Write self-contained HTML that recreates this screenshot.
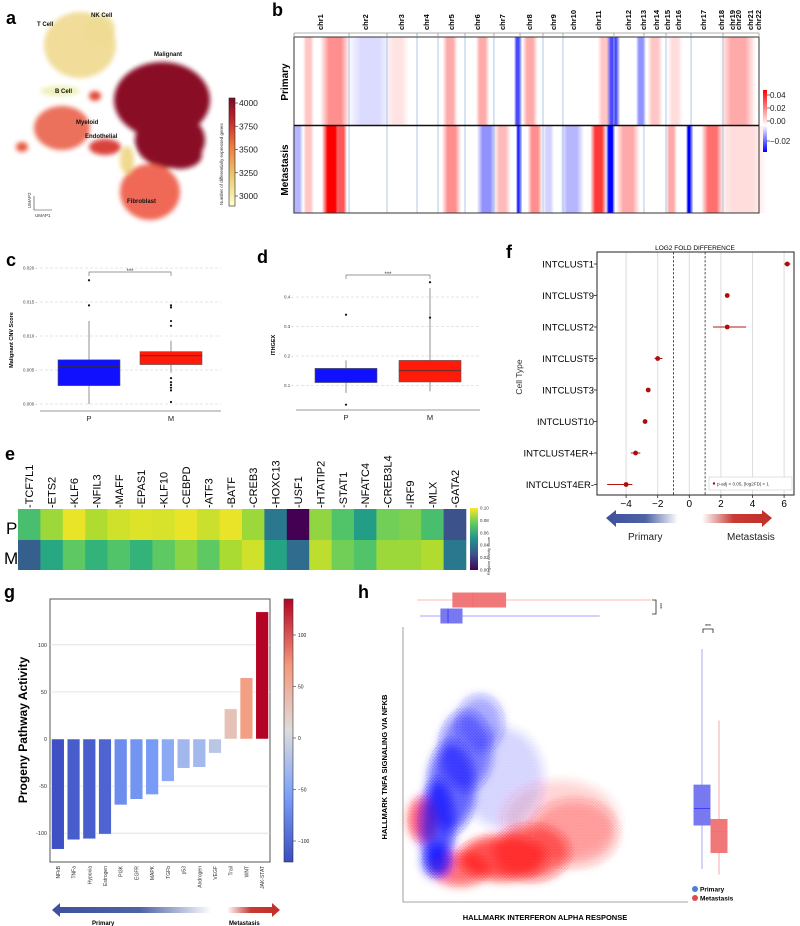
<!DOCTYPE html>
<html><head><meta charset="utf-8"><style>
html,body{margin:0;padding:0;background:#fff;}
svg{display:block;font-family:"Liberation Sans",sans-serif;}
</style></head><body>
<svg id="fig" width="800" height="926" viewBox="0 0 800 926" xmlns="http://www.w3.org/2000/svg">
<defs>
<filter id="blur6" x="-50%" y="-50%" width="200%" height="200%"><feGaussianBlur stdDeviation="5"/></filter>
<filter id="blur3" x="-50%" y="-50%" width="200%" height="200%"><feGaussianBlur stdDeviation="2.5"/></filter>
<pattern id="dotsB" width="3" height="3" patternUnits="userSpaceOnUse"><circle cx="1" cy="1" r="0.8" fill="#1a1aff"/><circle cx="2.5" cy="2.3" r="0.5" fill="#1a1aff"/></pattern>
<pattern id="dotsR" width="3" height="3" patternUnits="userSpaceOnUse"><circle cx="1" cy="1" r="0.8" fill="#ff1a1a"/><circle cx="2.5" cy="2.3" r="0.5" fill="#ff1a1a"/></pattern>
<linearGradient id="ylorrd" x1="0" y1="1" x2="0" y2="0"><stop offset="0" stop-color="#ffffcc"/><stop offset="0.3" stop-color="#e9c46a"/><stop offset="0.55" stop-color="#f07c3e"/><stop offset="0.8" stop-color="#c2262e"/><stop offset="1" stop-color="#7d0a22"/></linearGradient>
<linearGradient id="bwr" x1="0" y1="1" x2="0" y2="0"><stop offset="0" stop-color="#0000ff"/><stop offset="0.43" stop-color="#ffffff"/><stop offset="1" stop-color="#ff0000"/></linearGradient>
<linearGradient id="virid" x1="0" y1="1" x2="0" y2="0"><stop offset="0" stop-color="#440154"/><stop offset="0.25" stop-color="#3b528b"/><stop offset="0.5" stop-color="#21918c"/><stop offset="0.75" stop-color="#5ec962"/><stop offset="1" stop-color="#fde725"/></linearGradient>
<linearGradient id="cw" x1="0" y1="1" x2="0" y2="0"><stop offset="0" stop-color="#3b4cc0"/><stop offset="0.25" stop-color="#7b9ff9"/><stop offset="0.5" stop-color="#dddcdc"/><stop offset="0.75" stop-color="#f4987a"/><stop offset="1" stop-color="#b40426"/></linearGradient>
<linearGradient id="arrBlue" x1="0" y1="0" x2="1" y2="0"><stop offset="0" stop-color="#3f4f9e"/><stop offset="0.55" stop-color="#4f63a5"/><stop offset="1" stop-color="#ffffff"/></linearGradient>
<linearGradient id="arrRed" x1="0" y1="0" x2="1" y2="0"><stop offset="0" stop-color="#ffffff"/><stop offset="0.45" stop-color="#c83a33"/><stop offset="1" stop-color="#c0302b"/></linearGradient>
</defs>
<g id="panelA">
<text x="6" y="24" font-size="18" font-weight="bold">a</text>
<g filter="url(#blur3)">
<ellipse cx="80" cy="45" rx="36" ry="33" fill="#efd98e" opacity="0.9"/>
<ellipse cx="100" cy="30" rx="15" ry="16" fill="#f0dc94" opacity="0.9"/>
<ellipse cx="60" cy="91" rx="20" ry="5" fill="#eef0b8"/>
<ellipse cx="62" cy="128" rx="28" ry="22" fill="#e8583e" opacity="0.85"/>
<ellipse cx="22" cy="147" rx="6" ry="5" fill="#e8583e"/>
<ellipse cx="95" cy="96" rx="6" ry="5" fill="#e04a36"/>
<ellipse cx="162" cy="100" rx="48" ry="38" fill="#8a1028"/>
<ellipse cx="170" cy="140" rx="35" ry="28" fill="#8a1028"/>
<ellipse cx="180" cy="155" rx="22" ry="14" fill="#8a1028"/>
<ellipse cx="105" cy="147" rx="16" ry="8" fill="#d9423a"/>
<ellipse cx="150" cy="192" rx="30" ry="28" fill="#ee5a42" opacity="0.9"/>
<ellipse cx="127" cy="160" rx="7" ry="14" fill="#efd98e"/>
</g>
<g font-size="6" font-weight="bold" fill="#111">
<text x="37" y="26">T Cell</text><text x="91" y="17">NK Cell</text><text x="154" y="56">Malignant</text>
<text x="55" y="93">B Cell</text><text x="76" y="124">Myeloid</text><text x="85" y="138">Endothelial</text><text x="127" y="203">Fibroblast</text>
</g>
<g stroke="#333" stroke-width="0.6" fill="none">
<path d="M34 196 V210 H52"/></g>
<text x="31" y="208" font-size="4.5" transform="rotate(-90 31 208)" fill="#333">UMAP2</text>
<text x="35" y="217" font-size="4.5" fill="#333">UMAP1</text>
<rect x="229" y="98" width="6" height="108" fill="url(#ylorrd)" stroke="#222" stroke-width="0.6"/>
<g id="aTicks" font-size="8.5" fill="#222"></g>
<text x="223" y="205" font-size="4.5" transform="rotate(-90 223 205)" fill="#333">Number of differentially expressed genes</text>
</g>

<g id="panelB">
<text x="272" y="16" font-size="18" font-weight="bold">b</text>
<text x="288" y="82" font-size="10" font-weight="bold" text-anchor="middle" transform="rotate(-90 288 82)">Primary</text>
<text x="288" y="170" font-size="10" font-weight="bold" text-anchor="middle" transform="rotate(-90 288 170)">Metastasis</text>
<g id="bHeat"></g>
<rect x="763" y="90" width="4" height="62" fill="url(#bwr)"/>
<g id="bTicks" font-size="8" fill="#222"></g>
</g>

<g id="panelC">
<text x="6" y="266" font-size="18" font-weight="bold">c</text>
<text x="13" y="340" font-size="5.5" font-weight="bold" text-anchor="middle" transform="rotate(-90 13 340)">Malignant CNV Score</text>
<g id="cPlot"></g>
</g>
<g id="panelD">
<text x="257" y="263" font-size="18" font-weight="bold">d</text>
<text x="275" y="345" font-size="5.5" font-weight="bold" text-anchor="middle" transform="rotate(-90 275 345)">ITHGEX</text>
<g id="dPlot"></g>
</g>

<g id="panelE">
<text x="5" y="460" font-size="18" font-weight="bold">e</text>
<text x="6" y="534" font-size="17">P</text>
<text x="4" y="564" font-size="17">M</text>
<g id="eHeat"></g>
<rect x="470" y="508" width="8" height="62" fill="url(#virid)"/>
<g id="eTicks" font-size="4.5" fill="#333"></g>
<text x="490" y="575" font-size="3.8" transform="rotate(-90 490 575)" fill="#333">Regulon Activity Score</text>
</g>

<g id="panelF">
<text x="506" y="258" font-size="18" font-weight="bold">f</text>
<text x="695" y="250" font-size="6.5" text-anchor="middle">LOG2 FOLD DIFFERENCE</text>
<text x="522" y="377" font-size="8.5" fill="#333" text-anchor="middle" transform="rotate(-90 522 377)">Cell Type</text>
<g id="fPlot"></g>
<path d="M606 518 L616 510 L616 514 L678 514 L678 523 L616 523 L616 527 Z" fill="url(#arrBlue)"/>
<path d="M702 514 L762 514 L762 510 L772 518 L762 527 L762 523 L702 523 Z" fill="url(#arrRed)"/>
<text x="628" y="540" font-size="10" fill="#222">Primary</text>
<text x="727" y="540" font-size="10" fill="#222">Metastasis</text>
</g>

<g id="panelG">
<text x="4" y="598" font-size="18" font-weight="bold">g</text>
<text x="27" y="730" font-size="12" font-weight="bold" text-anchor="middle" transform="rotate(-90 27 730)">Progeny Pathway Activity</text>
<g id="gPlot"></g>
<rect x="284" y="599" width="9" height="263" fill="url(#cw)" stroke="#333" stroke-width="0.6"/>
<g id="gCbTicks" font-size="5" fill="#222"></g>
<path d="M52 910 L60 903 L60 907 L212 907 L212 913 L60 913 L60 917 Z" fill="url(#arrBlue)"/>
<path d="M227 907 L272 907 L272 903 L280 910 L272 917 L272 913 L227 913 Z" fill="url(#arrRed)"/>
<text x="92" y="925" font-size="6" font-weight="bold">Primary</text>
<text x="229" y="925" font-size="6" font-weight="bold">Metastasis</text>
</g>

<g id="panelH">
<text x="358" y="598" font-size="18" font-weight="bold">h</text>
<g id="hPlot"></g>
<text x="545" y="920" font-size="7.5" font-weight="bold" text-anchor="middle">HALLMARK INTERFERON ALPHA RESPONSE</text>
<text x="387" y="767" font-size="7.5" font-weight="bold" text-anchor="middle" transform="rotate(-90 387 767)">HALLMARK TNFA SIGNALING VIA NFKB</text>
<circle cx="695" cy="889" r="3" fill="#4a7fd4"/>
<text x="700" y="891.5" font-size="6.5" font-weight="bold">Primary</text>
<circle cx="695" cy="898" r="3" fill="#e04a4a"/>
<text x="700" y="900.5" font-size="6.5" font-weight="bold">Metastasis</text>
</g>
</svg>
<script>
var NS='http://www.w3.org/2000/svg';
function mk(parent,tag,attrs,txt){var e=document.createElementNS(NS,tag);for(var k in attrs)e.setAttribute(k,attrs[k]);if(txt!==undefined)e.textContent=txt;document.getElementById(parent).appendChild(e);return e;}

// ---------- panel a colorbar ticks
var aTickVals=[4000,3750,3500,3250,3000];
// ---------- panel b data (genome positions in Mb)
var chrNames=['chr1','chr2','chr3','chr4','chr5','chr6','chr7','chr8','chr9','chr10','chr11','chr12','chr13','chr14','chr15','chr16','chr17','chr18','chr19','chr20','chr21','chr22'];
var chrLabelPos=[173,473,713,880,1047,1220,1387,1567,1727,1860,2027,2227,2327,2413,2487,2560,2727,2847,2920,2960,3040,3093];
var chrBounds=[367,620,820,960,1140,1333,1507,1660,1793,2133,2333,2480,2647,2860];
var primStart=[73,207,407,640,1007,1227,1480,1540,2040,2100,2293,2373,2507,2880];
var primEnd=[120,340,607,740,1073,1287,1507,1607,2107,2160,2333,2440,2573,3040];
var primVal=[0.01,0.02,-0.005,0.005,0.015,0.015,-0.025,0.015,0.01,-0.025,-0.015,0.01,0.006,0.015];
var metStart=[0,73,207,293,1007,1240,1353,1493,1573,1673,1800,1993,2093,2173,2493,2627,2740,2873];
var metEnd=[47,120,293,340,1093,1327,1427,1507,1640,1720,1907,2067,2127,2280,2540,2647,2840,3100];
var metVal=[-0.01,0.01,0.045,0.03,0.02,-0.015,0.012,-0.03,0.02,-0.006,-0.01,0.035,-0.035,0.015,0.015,-0.035,0.025,0.006];
var bTickVals=[0.04,0.02,0.00,-0.02];
// ---------- panel c
var cCats=['P','M'];
var cQ1=[0.0027,0.0058],cMed=[0.0055,0.0071],cQ3=[0.0065,0.0077],cLo=[0.0,0.0046],cHi=[0.0122,0.0093];
var cOutliers=[[0.0145,0.0182],[0.0145,0.0142,0.0122,0.0115,0.0038,0.0032,0.0028,0.0024,0.002,0.0003]];
var cTicks=[0.000,0.005,0.010,0.015,0.020];
// ---------- panel d
var dCats=['P','M'];
var dQ1=[0.11,0.112],dMed=[0.155,0.15],dQ3=[0.158,0.185],dLo=[0.075,0.08],dHi=[0.185,0.43];
var dOutliers=[[0.035,0.34],[0.33,0.45]];
var dTicks=[0.1,0.2,0.3,0.4];
// ---------- panel e
var regulons=['TCF7L1','ETS2','KLF6','NFIL3','MAFF','EPAS1','KLF10','CEBPD','ATF3','BATF','CREB3','HOXC13','USF1','HTATIP2','STAT1','NFATC4','CREB3L4','IRF9','MLX','GATA2'];
var eP=[0.07,0.085,0.097,0.088,0.093,0.095,0.094,0.097,0.092,0.097,0.085,0.04,0.0,0.083,0.072,0.055,0.078,0.08,0.07,0.025];
var eM=[0.03,0.06,0.075,0.065,0.072,0.065,0.075,0.082,0.075,0.087,0.093,0.058,0.035,0.09,0.078,0.072,0.085,0.085,0.088,0.04];
var eTickVals=[0.10,0.08,0.06,0.04,0.02,0.00];
// ---------- panel f
var fCats=['INTCLUST1','INTCLUST9','INTCLUST2','INTCLUST5','INTCLUST3','INTCLUST10','INTCLUST4ER+','INTCLUST4ER-'];
var fVal=[6.2,2.4,2.4,-2.0,-2.6,-2.8,-3.4,-4.0];
var fLo=[6.0,2.4,1.5,-2.2,-2.6,-2.8,-3.7,-5.2];
var fHi=[6.4,2.4,3.6,-1.7,-2.6,-2.8,-3.1,-3.6];
var fTicks=[-4,-2,0,2,4,6];
// ---------- panel g
var pathways=['NFkB','TNFa','Hypoxia','Estrogen','PI3K','EGFR','MAPK','TGFb','p53','Androgen','VEGF','Trail','WNT','JAK-STAT'];
var gVal=[-117,-107,-106,-101,-70,-64,-59,-45,-31,-30,-15,32,65,135];
var gTicks=[100,50,0,-50,-100];
// ---------- panel h (normalized score units 0..1)
var hBlueCx=[0.12,0.17,0.22,0.27,0.12,0.35];
var hBlueCy=[0.28,0.42,0.55,0.65,0.15,0.45];
var hBlueRx=[0.06,0.08,0.09,0.08,0.05,0.14];
var hBlueRy=[0.16,0.16,0.14,0.1,0.06,0.18];
var hBlueOp=[0.75,0.65,0.5,0.35,0.8,0.15];
var hRedCx=[0.07,0.35,0.45,0.6,0.2,0.55];
var hRedCy=[0.3,0.16,0.18,0.25,0.12,0.3];
var hRedRx=[0.05,0.15,0.13,0.15,0.1,0.2];
var hRedRy=[0.08,0.08,0.1,0.12,0.06,0.14];
var hRedOp=[0.7,0.75,0.55,0.3,0.6,0.15];
var hTopQ1=[0.133,0.175],hTopMed=[0.158,0.245],hTopQ3=[0.207,0.36],hTopLo=[0.06,0.05],hTopHi=[0.69,0.87];
var hRightQ1=[0.28,0.18],hRightMed=[0.34,0.255],hRightQ3=[0.425,0.3],hRightLo=[0.12,0.1],hRightHi=[0.92,0.66];

// ===== draw a
(function(){function y(v){return 196+(3000-v)*(93/1000);}
aTickVals.forEach(function(v){var t=mk('aTicks','line',{x1:235,x2:238,y1:y(v),y2:y(v),stroke:'#222','stroke-width':0.6});


var l=mk('aTicks','text',{x:239,y:y(v)+3},String(v));

});})();

// ===== draw b
(function(){var x0=294,x1=759,G=3100;function x(m){return x0+(x1-x0)*m/G;}
var rows=[[37,88,primStart,primEnd,primVal,'primary'],[126,87,metStart,metEnd,metVal,'metastasis']];
var defs=document.querySelector('defs');var gid=0;
function col(v){if(v>=0){var t=Math.min(1,v/0.045);return 'rgb(255,'+Math.round(255*(1-t))+','+Math.round(255*(1-t))+')';}var t2=Math.min(1,-v/0.035);return 'rgb('+Math.round(255*(1-t2))+','+Math.round(255*(1-t2))+',255)';}
rows.forEach(function(r){var bg=mk('bHeat','rect',{x:x0,y:r[0],width:x1-x0,height:r[1],fill:'#fff'});


for(var i=0;i<r[2].length;i++){var id='bg'+(gid++);var lg=document.createElementNS(NS,'linearGradient');lg.setAttribute('id',id);lg.setAttribute('x1','0');lg.setAttribute('x2','1');lg.setAttribute('y1','0');lg.setAttribute('y2','0');var c=col(r[4][i]);
[[0,0],[0.3,1],[0.7,1],[1,0]].forEach(function(s){var st=document.createElementNS(NS,'stop');st.setAttribute('offset',s[0]);st.setAttribute('stop-color',c);st.setAttribute('stop-opacity',s[1]);lg.appendChild(st);});defs.appendChild(lg);
var xs=x(r[2][i]),xe=x(r[3][i]),w=xe-xs,pad=Math.max(2,w*0.25);
var b=mk('bHeat','rect',{x:xs-pad,y:r[0],width:w+2*pad,height:r[1],fill:'url(#'+id+')'});

}});
chrBounds.forEach(function(m){var l=mk('bHeat','line',{x1:x(m),x2:x(m),y1:37,y2:213,stroke:'#9bbbe0','stroke-width':0.8});

});
var fr=mk('bHeat','rect',{x:x0,y:37,width:x1-x0,height:176,fill:'none',stroke:'#333','stroke-width':1});


var mid=mk('bHeat','line',{x1:x0,x2:x1,y1:125.5,y2:125.5,stroke:'#111','stroke-width':1.5});


var ax=mk('bHeat','line',{x1:x0,x2:x1,y1:33,y2:33,stroke:'#999','stroke-width':0.8});


[0].concat(chrBounds).concat([G]).forEach(function(m){var t=mk('bHeat','line',{x1:x(m),x2:x(m),y1:33,y2:36,stroke:'#999','stroke-width':0.8});

});
chrNames.forEach(function(n,i){var px=x(chrLabelPos[i])+3;var t=mk('bHeat','text',{x:px,y:30,'font-size':7.5,'font-weight':'bold',transform:'rotate(-90 '+px+' 30)'},n);

});
bTickVals.forEach(function(v){var yy=v>=0?121-v*650:121-v*1000;var t=mk('bTicks','line',{x1:767,x2:770,y1:yy,y2:yy,stroke:'#222','stroke-width':0.6});


var l=mk('bTicks','text',{x:770,y:yy+3},(v<0?'\u2212':'')+Math.abs(v).toFixed(2));

});})();

// ===== box plot helper
function boxPanel(pid,cfg){var y=cfg.y;
cfg.ticks.forEach(function(v){var g=mk(pid,'line',{x1:cfg.xl,x2:cfg.xr,y1:y(v),y2:y(v),stroke:'#ccc','stroke-width':0.6,'stroke-dasharray':'3,2'});


var t=mk(pid,'text',{x:cfg.xl-3,y:y(v)+1.5,'font-size':4.5,'text-anchor':'end',fill:'#444'},cfg.fmt(v)+' -');

});
var ax=mk(pid,'line',{x1:cfg.xl,x2:cfg.xr,y1:cfg.axY,y2:cfg.axY,stroke:'#999','stroke-width':1});


cfg.cats.forEach(function(c,i){var cx=cfg.cx[i],hw=cfg.hw;
var w=mk(pid,'line',{x1:cx,x2:cx,y1:y(cfg.lo[i]),y2:y(cfg.hi[i]),stroke:'#777','stroke-width':0.8});


var b=mk(pid,'rect',{x:cx-hw,y:y(cfg.q3[i]),width:2*hw,height:y(cfg.q1[i])-y(cfg.q3[i]),fill:cfg.colors[i],stroke:'#555','stroke-width':0.6});


var m=mk(pid,'line',{x1:cx-hw,x2:cx+hw,y1:y(cfg.med[i]),y2:y(cfg.med[i]),stroke:'#333','stroke-width':0.8});


cfg.out[i].forEach(function(o){var d=mk(pid,'circle',{cx:cx,cy:y(o),r:1.1,fill:'#111'});

});
var tl=mk(pid,'text',{x:cx,y:cfg.axY+10,'font-size':7.5,'text-anchor':'middle',fill:'#222'},c);

});
var br=mk(pid,'path',{d:'M'+cfg.cx[0]+' '+(cfg.brY+4)+' V'+cfg.brY+' H'+cfg.cx[1]+' V'+(cfg.brY+4),fill:'none',stroke:'#777','stroke-width':0.7});


var st=mk(pid,'text',{x:(cfg.cx[0]+cfg.cx[1])/2,y:cfg.brY+1,'font-size':6,'text-anchor':'middle',fill:'#333'},'***');

}
boxPanel('cPlot',{y:function(v){return 404-v*6800;},ticks:cTicks,fmt:function(v){return v.toFixed(3);},xl:40,xr:221,axY:411,cats:cCats,cx:[89,171],hw:31,q1:cQ1,q3:cQ3,med:cMed,lo:cLo,hi:cHi,out:cOutliers,colors:['#1010ff','#ff1a0a'],brY:272});
boxPanel('dPlot',{y:function(v){return 415-v*295;},ticks:dTicks,fmt:function(v){return v.toFixed(1);},xl:296,xr:480,axY:410,cats:dCats,cx:[346,430],hw:31,q1:dQ1,q3:dQ3,med:dMed,lo:dLo,hi:dHi,out:dOutliers,colors:['#1010ff','#ff1a0a'],brY:275});

// ===== draw e
(function(){var stops=[[0,[68,1,84]],[0.125,[71,44,122]],[0.25,[59,82,139]],[0.375,[44,114,142]],[0.5,[33,145,140]],[0.625,[40,174,128]],[0.75,[94,201,98]],[0.875,[173,220,48]],[1,[253,231,37]]];
function vir(v){var t=Math.max(0,Math.min(1,v/0.1));for(var i=1;i<stops.length;i++){if(t<=stops[i][0]){var a=stops[i-1],b=stops[i],f=(t-a[0])/(b[0]-a[0]);return 'rgb('+[0,1,2].map(function(k){return Math.round(a[1][k]+(b[1][k]-a[1][k])*f);}).join(',')+')';}}return 'rgb(253,231,37)';}
var x0=18,cw=(466-18)/regulons.length;
regulons.forEach(function(n,i){var px=x0+cw*(i+0.5);
var a=mk('eHeat','rect',{x:x0+cw*i,y:509,width:cw+0.3,height:31,fill:vir(eP[i])});


var b=mk('eHeat','rect',{x:x0+cw*i,y:540,width:cw+0.3,height:30,fill:vir(eM[i])});


var t=mk('eHeat','text',{x:px+4,y:508,'font-size':11,transform:'rotate(-90 '+(px+4)+' 508)'},'-'+n);

});
eTickVals.forEach(function(v){var yy=570-v*620;var l=mk('eTicks','text',{x:480,y:yy+1.5},v.toFixed(2));

});})();

// ===== draw f
(function(){function x(v){return 689.3+15.8*v;}var yt=252,yb=495;function y(i){return 264+i*31.5;}
for(var v=-5;v<=6;v++){if(v===-1||v===1)continue;if(v%2!==0)continue;var g=mk('fPlot','line',{x1:x(v),x2:x(v),y1:yt,y2:yb,stroke:'#ddd','stroke-width':1});

}
[-1,1].forEach(function(v){var d=mk('fPlot','line',{x1:x(v),x2:x(v),y1:yt,y2:yb,stroke:'#333','stroke-width':0.8,'stroke-dasharray':'2.5,1.5'});

});
var fr=mk('fPlot','rect',{x:597,y:yt,width:197,height:yb-yt,fill:'none',stroke:'#222','stroke-width':1});


fTicks.forEach(function(v){var t=mk('fPlot','line',{x1:x(v),x2:x(v),y1:yb,y2:yb+3,stroke:'#222','stroke-width':0.8});


var l=mk('fPlot','text',{x:x(v),y:yb+12,'font-size':10,'text-anchor':'middle'},(v<0?'\u2212':'')+Math.abs(v));

});
fCats.forEach(function(c,i){var yy=y(i);
var t=mk('fPlot','line',{x1:594,x2:597,y1:yy,y2:yy,stroke:'#222','stroke-width':0.8});


var l=mk('fPlot','text',{x:594,y:yy+3.5,'font-size':9.5,'text-anchor':'end'},c);


var e=mk('fPlot','line',{x1:x(fLo[i]),x2:x(fHi[i]),y1:yy,y2:yy,stroke:'#b01818','stroke-width':1});


var p=mk('fPlot','circle',{cx:x(fVal[i]),cy:yy,r:2.4,fill:'#a81010'});

});
var lg=mk('fPlot','rect',{x:709,y:477,width:83,height:13,fill:'#fff',stroke:'#ccc','stroke-width':0.6});


var ld=mk('fPlot','circle',{cx:714,cy:483.5,r:1.2,fill:'#a81010'});


var lt=mk('fPlot','text',{x:717,y:485.5,'font-size':4.6,fill:'#333'},'p-adj < 0.05, |log2FD| > 1');

})();

// ===== draw g
(function(){function y(v){return 739-0.942*v;}var xl=50,xr=270,bw=(xr-xl)/pathways.length;
var stops=[[0,[59,76,192]],[0.25,[123,159,249]],[0.5,[221,220,220]],[0.75,[244,152,122]],[1,[180,4,38]]];
function cw(v){var t=Math.max(0,Math.min(1,(v+120)/255));for(var i=1;i<stops.length;i++){if(t<=stops[i][0]){var a=stops[i-1],b=stops[i],f=(t-a[0])/(b[0]-a[0]);return 'rgb('+[0,1,2].map(function(k){return Math.round(a[1][k]+(b[1][k]-a[1][k])*f);}).join(',')+')';}}return 'rgb(180,4,38)';}
var bg=mk('gPlot','rect',{x:xl,y:599,width:xr-xl,height:263,fill:'#fff',stroke:'#555','stroke-width':1});


gTicks.forEach(function(v){if(v!==0){var g=mk('gPlot','line',{x1:xl,x2:xr,y1:y(v),y2:y(v),stroke:'#ddd','stroke-width':0.8});

}
var t=mk('gPlot','text',{x:xl-3,y:y(v)+2,'font-size':5.5,'text-anchor':'end',fill:'#333'},String(v));

});
pathways.forEach(function(p,i){var v=gVal[i];var bx=xl+bw*i+1.5;
var r=mk('gPlot','rect',{x:bx,y:Math.min(y(0),y(v)),width:bw-3,height:Math.abs(y(v)-y(0)),fill:cw(v),stroke:'#fff','stroke-width':0.5});


var cx=xl+bw*(i+0.5)+2;var t=mk('gPlot','text',{x:cx,y:866,'font-size':5,'text-anchor':'end',fill:'#333',transform:'rotate(-90 '+cx+' 866)'},p);

});
[100,50,0,-50,-100].forEach(function(v){var yy=738-v*1.03;var t=mk('gCbTicks','line',{x1:293,x2:296,y1:yy,y2:yy,stroke:'#333','stroke-width':0.6});


var l=mk('gCbTicks','text',{x:298,y:yy+2},(v<0?'\u2212':'')+Math.abs(v));

});})();

// ===== draw h
(function(){var x0=403,x1=688,y0=902,y1=627;function x(v){return x0+(x1-x0)*v;}function y(v){return y0-(y0-y1)*v;}
var gC=document.createElementNS(NS,'g');gC.setAttribute('filter','url(#blur6)');document.getElementById('hPlot').appendChild(gC);


var gD=document.createElementNS(NS,'g');document.getElementById('hPlot').appendChild(gD);


function cloud(cxs,cys,rxs,rys,ops,col,pat,nm){cxs.forEach(function(c,i){
var e=document.createElementNS(NS,'ellipse');e.setAttribute('cx',x(c));e.setAttribute('cy',y(cys[i]));e.setAttribute('rx',(x1-x0)*rxs[i]);e.setAttribute('ry',(y0-y1)*rys[i]);e.setAttribute('fill',col);e.setAttribute('opacity',ops[i]);gC.appendChild(e);


var d=document.createElementNS(NS,'ellipse');d.setAttribute('cx',x(c));d.setAttribute('cy',y(cys[i]));d.setAttribute('rx',(x1-x0)*rxs[i]*1.15);d.setAttribute('ry',(y0-y1)*rys[i]*1.15);d.setAttribute('fill','url(#'+pat+')');d.setAttribute('opacity',ops[i]*0.35);gD.appendChild(d);

});}
cloud(hRedCx,hRedCy,hRedRx,hRedRy,hRedOp,'#ff1a1a','dotsR','metastasis-points');
cloud(hBlueCx,hBlueCy,hBlueRx,hBlueRy,hBlueOp,'#1a1aff','dotsB','primary-points');
var ax=mk('hPlot','path',{d:'M'+x0+' '+y1+' V'+y0+' H'+x1,fill:'none',stroke:'#888','stroke-width':0.8});


var tY=[616,600],cols=['#7878f0','#f07878'],lines=['#3333ff','#ff6666'];
[0,1].forEach(function(i){var w=mk('hPlot','line',{x1:x(hTopLo[i]),x2:x(hTopHi[i]),y1:tY[i],y2:tY[i],stroke:lines[i],'stroke-width':0.8,opacity:0.6});


var b=mk('hPlot','rect',{x:x(hTopQ1[i]),y:tY[i]-7,width:x(hTopQ3[i])-x(hTopQ1[i]),height:14,fill:cols[i],stroke:cols[i]});


var m=mk('hPlot','line',{x1:x(hTopMed[i]),x2:x(hTopMed[i]),y1:tY[i]-7,y2:tY[i]+7,stroke:lines[i],'stroke-width':0.8});

});
var tb=mk('hPlot','path',{d:'M652 600 H656 V614 H652',fill:'none',stroke:'#222','stroke-width':0.8});


var ts=mk('hPlot','text',{x:658,y:603,'font-size':5,transform:'rotate(90 658 603)'},'***');


var rX=[702,719];
[0,1].forEach(function(i){var w=mk('hPlot','line',{x1:rX[i],x2:rX[i],y1:y(hRightLo[i]),y2:y(hRightHi[i]),stroke:cols[i],'stroke-width':0.8,opacity:0.8});


var b=mk('hPlot','rect',{x:rX[i]-8,y:y(hRightQ3[i]),width:16,height:y(hRightQ1[i])-y(hRightQ3[i]),fill:cols[i],stroke:cols[i]});


var m=mk('hPlot','line',{x1:rX[i]-8,x2:rX[i]+8,y1:y(hRightMed[i]),y2:y(hRightMed[i]),stroke:lines[i],'stroke-width':0.8});

});
var rb=mk('hPlot','path',{d:'M703 633 V629 H713 V633',fill:'none',stroke:'#222','stroke-width':0.8});


var rs=mk('hPlot','text',{x:708,y:628,'font-size':5,'text-anchor':'middle'},'***');

})();
</script>
</body></html>
